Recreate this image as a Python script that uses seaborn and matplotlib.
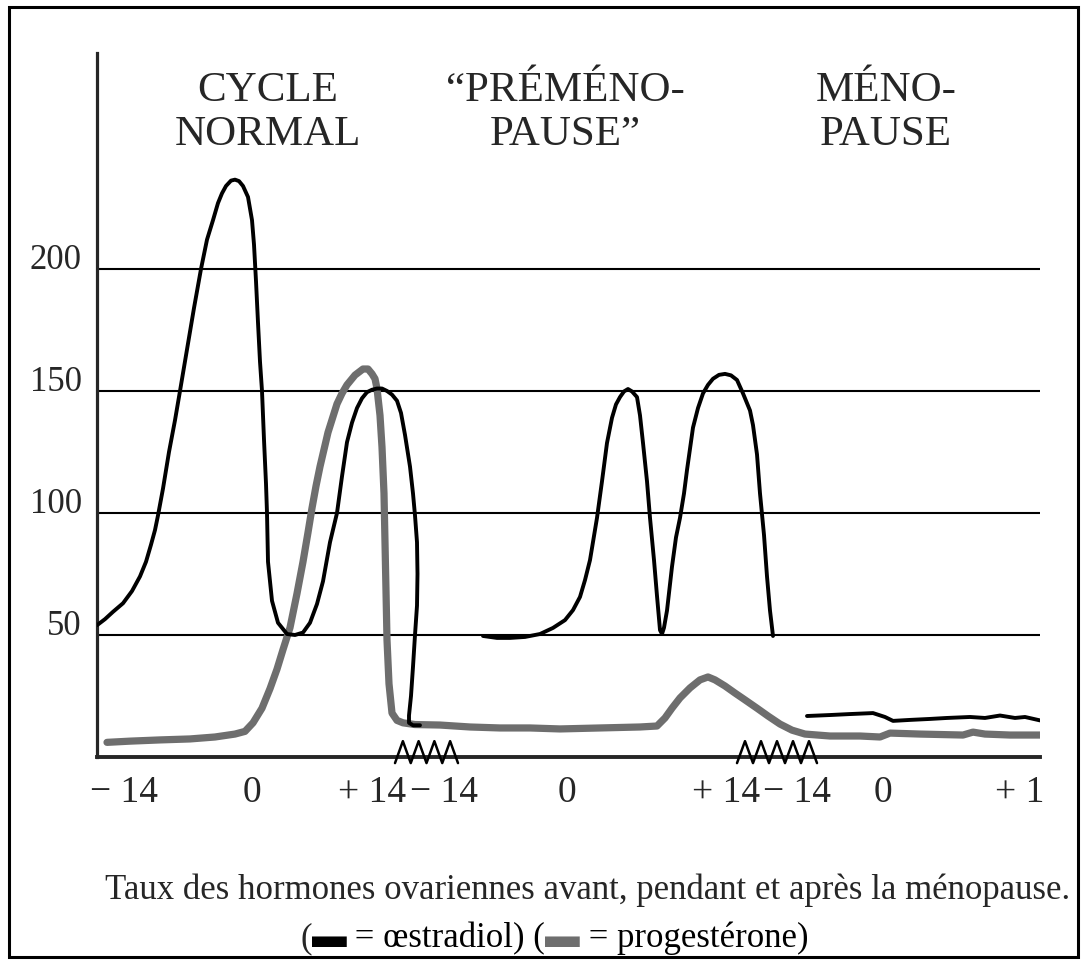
import numpy as np
import pandas as pd
import matplotlib
matplotlib.use("Agg")
import matplotlib.pyplot as plt
from matplotlib.patches import Rectangle
import seaborn as sns

# positions le long de l'axe horizontal (echelle dessinee, non proportionnelle)
# oestradiol - cycle normal
e1_x = [97, 105, 113, 123, 132, 140, 146, 151, 155, 158, 163, 169, 175, 180, 187, 194, 201, 207,
        213, 218, 222, 226, 231, 235, 239, 243, 248, 252, 254, 256, 258, 260, 262, 264, 266, 267, 268, 272,
        278, 287, 295, 303, 310, 317, 323, 330, 337, 342, 347, 352, 357, 362, 367, 372, 377, 382,
        387, 392, 397, 401, 405, 410, 413, 415, 417, 417.5, 417, 415, 413, 411, 409, 409, 413, 420]
e1_y = [54, 56.5, 59.5, 63, 68, 74, 80, 87, 93, 99, 110, 125, 138, 150, 167, 184, 200, 212,
        220, 227, 231, 234, 236.2, 236.6, 236, 234, 229.5, 220, 210, 195, 178, 162, 150, 130, 112, 100, 80, 64,
        55, 50.4, 50, 51, 55, 62.7, 72, 88, 100, 115, 129, 137, 143, 147, 149.5, 150.5, 151, 151,
        150, 148.5, 146, 141, 132, 119, 108, 99, 88, 75, 62, 50, 37, 25, 17, 14, 13, 13]

# oestradiol - premenopause
e2_x = [483, 497, 510, 525, 540, 553, 565, 573, 580, 585, 590, 597, 602, 607, 612, 616, 620, 624,
        628, 632, 637, 640, 643, 647, 650, 654, 657, 660, 662, 664, 667, 672, 676, 680, 684, 687,
        693, 698, 703, 708, 713, 719, 725, 731, 737, 743, 747, 750, 753, 757, 760, 764, 767, 770, 773]
e2_y = [49.6, 48.8, 48.8, 49.2, 50.4, 52.9, 56.1, 60.2, 65.6, 72.5, 80.7, 98, 113, 128.7, 139,
        144.5, 147.5, 149.8, 150.8, 149.8, 147.5, 140, 128.7, 113, 98, 80.7, 66, 52, 50.4, 53,
        60, 78, 90, 98, 108, 117.6, 135, 143, 149, 152.5, 155, 156.6, 157, 156.4, 154.5, 149,
        145, 142, 136, 124, 108, 91, 74, 60, 49.6]

# oestradiol - menopause
e3_x = [807, 830, 850, 873, 885, 893, 910, 930, 947, 970, 985, 1000, 1015, 1025, 1040]
e3_y = [16.8, 17.2, 17.6, 18, 16.4, 14.8, 15.2, 15.6, 16, 16.4, 16, 17, 16, 16.4, 15]

# progesterone
p_x = [107, 130, 160, 190, 215, 235, 245, 253, 262, 270, 277, 283, 290, 297, 303, 308, 312, 316,
       320, 328, 337, 342, 347, 355, 363, 368, 372, 375, 377, 380, 382, 384, 385, 386, 387, 389,
       392, 397, 403, 415, 440, 470, 500, 530, 560, 600, 640, 657, 665, 672, 680, 690, 700, 708,
       715, 725, 735, 745, 757, 768, 780, 792, 805, 830, 860, 880, 890, 920, 963, 973, 985, 1010, 1040]
p_y = [6, 6.5, 7, 7.4, 8.2, 9.4, 10.5, 14, 20, 28, 36, 44, 53, 67, 80, 92, 102, 111,
       119, 133, 144.7, 149, 152.5, 156.5, 159, 159, 157, 155, 151, 140, 127, 108, 88, 68, 48, 30,
       18, 15, 14, 13.3, 13.1, 12.3, 11.9, 11.9, 11.5, 11.9, 12.3, 12.7, 16, 20, 24.2, 28.3, 31.6, 32.8,
       31.6, 29.1, 26.2, 23.4, 20, 16.8, 13.5, 11, 9.4, 8.6, 8.6, 8.2, 9.8, 9.4, 9, 10.2, 9.4, 9, 9]

tick_pos = [124, 252, 372, 444, 567, 726, 797, 883, 1020]
tick_labels = ["− 14", "0", "+ 14", "− 14", "0", "+ 14", "− 14", "0", "+ 1"]
mark_pos = [252, 567, 883, 1037]
breaks = [(395, 458, 4), (737, 817, 5)]
y_ticks = [50, 100, 150, 200]

phases = ["CYCLE\nNORMAL", "“PRÉMÉNO-\nPAUSE”", "MÉNO-\nPAUSE"]
phase_x = [268, 565, 886]

rows = []
for name, unit, xs, ys in [("oestradiol", "e1", e1_x, e1_y), ("oestradiol", "e2", e2_x, e2_y),
                           ("oestradiol", "e3", e3_x, e3_y), ("progesterone", "p", p_x, p_y)]:
    for a, b in zip(xs, ys):
        rows.append({"hormone": name, "unit": unit, "x": a, "taux": b})
df = pd.DataFrame(rows)

sns.set_style("white")
plt.rcParams["font.family"] = ["Liberation Serif", "DejaVu Sans"]

fig = plt.figure(figsize=(10.83, 9.64), dpi=100)
ax = fig.add_axes([97 / 1083, 1 - 757 / 964, (1040 - 97) / 1083, (757 - 53) / 964])

for y in y_ticks:
    ax.axhline(y, color="black", lw=1.5, zorder=1)

sns.lineplot(data=df[df.hormone == "progesterone"], x="x", y="taux", units="unit",
             estimator=None, sort=False, color="#6e6e6e", lw=5.2, ax=ax, zorder=2)
sns.lineplot(data=df[df.hormone == "oestradiol"], x="x", y="taux", units="unit",
             estimator=None, sort=False, color="black", lw=2.8, ax=ax, zorder=3)

# ruptures de l'axe
for x0, x1, n in breaks:
    zx = np.linspace(x0, x1, 2 * n + 1)
    zy = np.where(np.arange(2 * n + 1) % 2 == 0, -2.5, 6.5)
    ax.plot(zx, zy, color="black", lw=1.8, clip_on=False, zorder=4)

ax.set_xlim(97, 1040)
ax.set_ylim(0, 288.5)
ax.set_xlabel("")
ax.set_ylabel("")
sns.despine(ax=ax)
ax.spines["left"].set_linewidth(2.3)
ax.spines["bottom"].set_linewidth(2.8)

ax.set_xticks(tick_pos, labels=tick_labels)
ax.set_xticks(mark_pos, minor=True)
ax.tick_params(axis="x", which="major", length=0, pad=13, labelsize=27)
ax.tick_params(axis="x", which="minor", direction="in", length=7, width=2, color="black")
ax.set_yticks(y_ticks, labels=[str(v) for v in y_ticks])
ax.tick_params(axis="y", length=0, pad=11, labelsize=25)
for lbl in ax.get_yticklabels():
    lbl.set_va("baseline")

for txt, px in zip(phases, phase_x):
    ax.text(px, 264, txt, ha="center", va="center", fontsize=31, linespacing=1.2)

fig.text(588 / 1083, 1 - 890 / 964, "Taux des hormones ovariennes avant, pendant et après la ménopause.",
         ha="center", va="center", fontsize=25)

# legende de la legende : morceaux enchaines
pieces = [("▬", "black"), (" = œstradiol) (", "black"),
          ("▬", "#6e6e6e"), (" = progestérone)", "black")]
prev = fig.text(300 / 1083, 1 - 955 / 964, "(", ha="left", va="bottom", fontsize=25)
for s, c in pieces:
    prev = fig.add_artist(matplotlib.text.Annotation(
        s, xy=(1, 0), xycoords=prev, color=c, fontsize=25, ha="left", va="bottom"))

fig.patches.append(Rectangle((9 / 1083, 1 - 957 / 964), (1078 - 9) / 1083, (957 - 7) / 964,
                             transform=fig.transFigure, fill=False, lw=2.2, ec="black"))

fig.savefig("out.png", dpi=100)
